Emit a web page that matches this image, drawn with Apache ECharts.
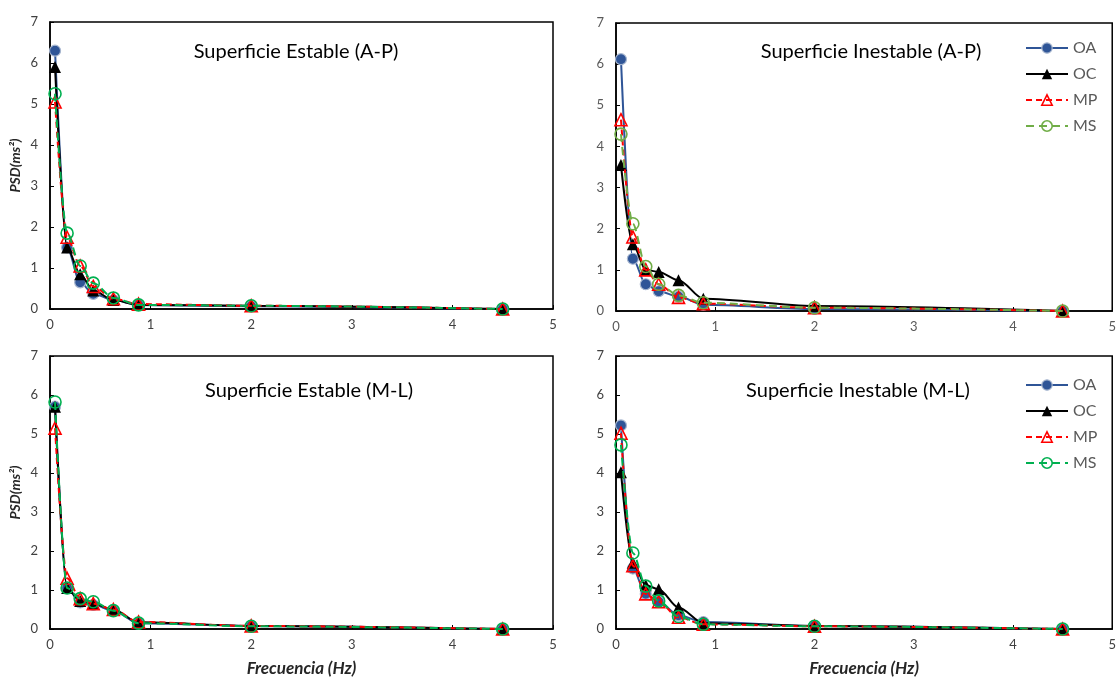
<!DOCTYPE html>
<html>
<head>
<meta charset="utf-8">
<script src="https://cdn.jsdelivr.net/npm/echarts@6/dist/echarts.min.js"></script>
<style>html,body{margin:0;padding:0;background:#fff}#c{width:1119px;height:678px}</style>
</head>
<body>
<div id="c"></div>
<script>
// Frequencies (Hz)
const freq = [0.05, 0.17, 0.3, 0.43, 0.63, 0.88, 2, 4.5];
const seriesNames = ['OA', 'OC', 'MP', 'MS'];
const panelTitles = ['Superficie Estable (A-P)', 'Superficie Inestable (A-P)', 'Superficie Estable (M-L)', 'Superficie Inestable (M-L)'];
const yTicks = [0, 1, 2, 3, 4, 5, 6, 7];
const xTicks = [0, 1, 2, 3, 4, 5];

// Panel 1: Superficie Estable (A-P)
const estAP_OA = [6.30, 1.50, 0.65, 0.37, 0.22, 0.10, 0.07, 0.00];
const estAP_OC = [5.90, 1.50, 0.85, 0.45, 0.22, 0.10, 0.08, 0.00];
const estAP_MP = [5.05, 1.75, 1.05, 0.55, 0.25, 0.12, 0.08, 0.00];
const estAP_MS = [5.25, 1.85, 1.05, 0.63, 0.27, 0.10, 0.08, 0.00];
// Panel 2: Superficie Inestable (A-P)
const inAP_OA = [6.12, 1.27, 0.65, 0.48, 0.35, 0.15, 0.05, 0.00];
const inAP_OC = [3.55, 1.62, 1.00, 0.95, 0.75, 0.30, 0.12, 0.00];
const inAP_MP = [4.65, 1.80, 1.00, 0.65, 0.33, 0.18, 0.08, 0.00];
const inAP_MS = [4.30, 2.12, 1.08, 0.65, 0.38, 0.20, 0.08, 0.00];
// Panel 3: Superficie Estable (M-L)
const estML_OA = [5.70, 1.05, 0.68, 0.62, 0.47, 0.15, 0.08, 0.00];
const estML_OC = [5.70, 1.05, 0.72, 0.65, 0.50, 0.17, 0.08, 0.00];
const estML_MP = [5.15, 1.30, 0.78, 0.65, 0.50, 0.18, 0.08, 0.00];
const estML_MS = [5.82, 1.05, 0.78, 0.70, 0.47, 0.15, 0.07, 0.00];
// Panel 4: Superficie Inestable (M-L)
const inML_OA = [5.22, 1.55, 0.90, 0.70, 0.35, 0.18, 0.08, 0.00];
const inML_OC = [4.02, 1.70, 1.12, 1.02, 0.55, 0.15, 0.08, 0.00];
const inML_MP = [5.02, 1.62, 0.90, 0.70, 0.30, 0.12, 0.07, 0.00];
const inML_MS = [4.72, 1.95, 1.10, 0.72, 0.32, 0.12, 0.07, 0.00];

const panels = [
  [estAP_OA, estAP_OC, estAP_MP, estAP_MS],
  [inAP_OA, inAP_OC, inAP_MP, inAP_MS],
  [estML_OA, estML_OC, estML_MP, estML_MS],
  [inML_OA, inML_OC, inML_MP, inML_MS]
];

const FONT = 'Lato';
const grids = [
  {left: 50, top: 22, width: 503, height: 287},
  {left: 616, top: 23, width: 503, height: 288},
  {left: 50, top: 356, width: 503, height: 278},
  {left: 616, top: 356, width: 503, height: 275}
];
const titlePos = [[296, 52], [871, 52], [309, 391], [858, 391]];
const labelColors = ['#404040', '#595959', '#404040', '#404040'];
const msColors = ['#00B050', '#70AD47', '#00B050', '#00B050'];

function styleFor(name, p) {
  if (name === 'OA') return {
    symbol: 'circle', symbolSize: 11,
    itemStyle: {color: '#2F5597', borderColor: '#A7B6CF', borderWidth: 1.2},
    lineStyle: {color: '#2F5597', width: 2, type: 'solid'}, z: 2
  };
  if (name === 'OC') return {
    symbol: 'triangle', symbolSize: 12,
    itemStyle: {color: '#000000', borderColor: '#000000', borderWidth: 0},
    lineStyle: {color: '#000000', width: 2, type: 'solid'}, z: 3
  };
  if (name === 'MP') return {
    symbol: 'triangle', symbolSize: 12,
    itemStyle: {color: 'rgba(255,255,255,0)', borderColor: '#FF0000', borderWidth: 1.6},
    lineStyle: {color: '#FF0000', width: 2, type: [6, 4]}, z: 4
  };
  return {
    symbol: 'circle', symbolSize: 12,
    itemStyle: {color: 'rgba(255,255,255,0)', borderColor: msColors[p], borderWidth: 1.6},
    lineStyle: {color: msColors[p], width: 2, type: [8, 5]}, z: 5
  };
}

const xAxis = [], yAxis = [], series = [], graphic = [];
grids.forEach((g, p) => {
  xAxis.push({
    type: 'value', gridIndex: p, min: 0, max: 5, interval: 1,
    name: p >= 2 ? 'Frecuencia (Hz)' : '', nameLocation: 'middle', nameGap: 31,
    nameTextStyle: {fontFamily: FONT, fontSize: 17, fontWeight: 'bold', fontStyle: 'italic', color: '#262626'},
    axisLine: {show: true, lineStyle: {color: '#000', width: 1.5}},
    axisTick: {show: true, inside: true, length: 4, lineStyle: {color: '#000'}},
    axisLabel: {fontFamily: FONT, fontSize: 13, color: labelColors[p], margin: 9,
      formatter: v => xTicks.includes(v) ? String(v) : ''},
    splitLine: {show: false}
  });
  yAxis.push({
    type: 'value', gridIndex: p, min: 0, max: 7, interval: 1,
    name: (p === 0 || p === 2) ? 'PSD(ms\u00B2)' : '', nameLocation: 'middle', nameGap: 28, nameRotate: 90,
    nameTextStyle: {fontFamily: FONT, fontSize: 14, fontWeight: 'bold', fontStyle: 'italic', color: '#262626'},
    axisLine: {show: true, lineStyle: {color: '#000', width: 1.5}},
    axisTick: {show: true, inside: true, length: 4, lineStyle: {color: '#000'}},
    axisLabel: {fontFamily: FONT, fontSize: 13, color: labelColors[p], margin: 12,
      formatter: v => yTicks.includes(v) ? String(v) : ''},
    splitLine: {show: false}
  });
  seriesNames.forEach((n, k) => {
    const st = styleFor(n, p);
    series.push(Object.assign({
      type: 'line', name: n, xAxisIndex: p, yAxisIndex: p,
      data: freq.map((f, i) => [f, panels[p][k][i]]),
      smooth: 0.3, smoothMonotone: 'x', showSymbol: true, animation: false, clip: false
    }, st));
  });
  graphic.push({
    type: 'text', x: titlePos[p][0], y: titlePos[p][1],
    style: {text: panelTitles[p], fontFamily: FONT, fontSize: 20, fill: '#000',
      textAlign: 'center', textVerticalAlign: 'middle'}
  });
});

function legendFor(p, top) {
  return {
    orient: 'vertical', left: 1020, top: top, itemWidth: 42, itemHeight: 13, itemGap: 10,
    selectedMode: false,
    textStyle: {fontFamily: FONT, fontSize: 16, color: '#595959'},
    data: seriesNames.map(n => {
      const st = styleFor(n, p);
      return {name: n, itemStyle: st.itemStyle, lineStyle: st.lineStyle};
    })
  };
}

const chart = echarts.init(document.getElementById('c'), null, {renderer: 'canvas'});
chart.setOption({
  backgroundColor: '#fff',
  animation: false,
  grid: grids.map(g => Object.assign({show: true, borderColor: '#000', borderWidth: 1.5, backgroundColor: 'transparent'}, g)),
  xAxis, yAxis, series, graphic,
  legend: [legendFor(1, 35), legendFor(3, 372)]
});
</script>
</body>
</html>
